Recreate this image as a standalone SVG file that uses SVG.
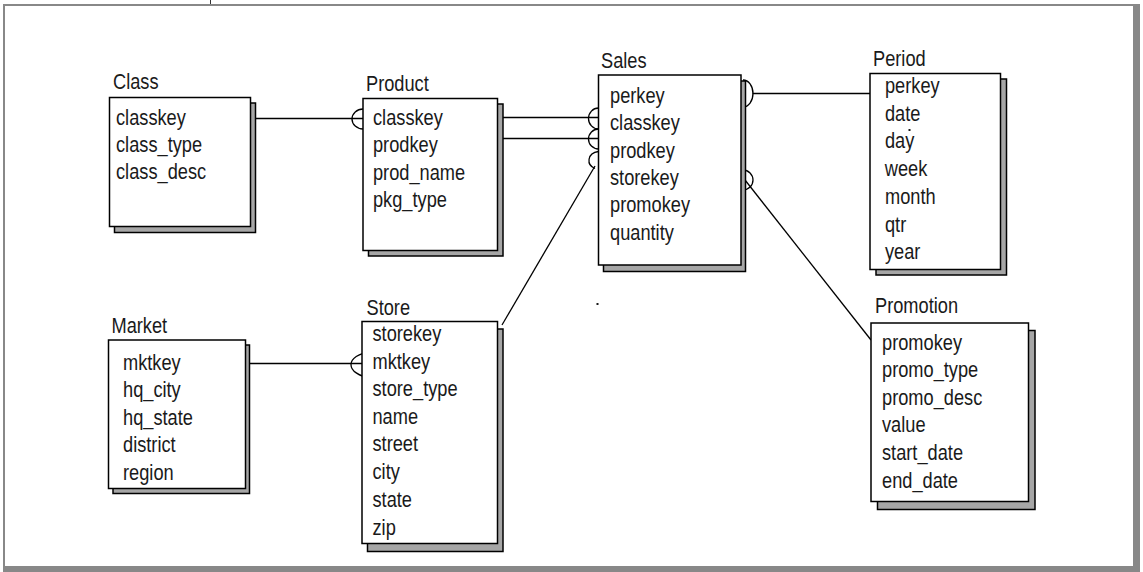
<svg xmlns="http://www.w3.org/2000/svg" width="1143" height="572" viewBox="0 0 1143 572">
  <style>
    .frame { fill: #888888; }
    .shadow { fill: #a6a6a6; stroke: #000; stroke-width: 1.5; }
    .box { fill: #ffffff; stroke: #000; stroke-width: 1.5; }
    .title, .col {
      font-family: "Liberation Sans", Arial, sans-serif; font-size: 22.5px; fill: #1a1a1a;
      /* narrow face: squeeze glyphs horizontally, anchored at the text start */
      transform-box: fill-box; transform-origin: 0 50%; transform: scaleX(0.81);
    }
    .link { fill: none; stroke: #000; stroke-width: 1.3; }
  </style>

  <!-- page frame -->
  <rect width="1143" height="572" fill="#ffffff"/>
  <line x1="210.5" y1="0" x2="210.5" y2="5" stroke="#333" stroke-width="1"/>
  <rect class="frame" x="3" y="4" width="1137" height="2"/>
  <rect class="frame" x="3" y="4" width="2" height="568"/>
  <rect class="frame" x="1133" y="4" width="7" height="568"/>
  <rect class="frame" x="3" y="566" width="1137" height="6"/>

  <!-- relationships -->
  <g id="connectors">
    <!-- Class to Product -->
    <line class="link" x1="255.5" y1="118.5" x2="363" y2="118.5"/>
    <path class="link" d="M363,109 A11,10 0 0 0 363,129"/>
    <!-- Product to Sales -->
    <line class="link" x1="503" y1="117.5" x2="598.5" y2="117.5"/>
    <line class="link" x1="503" y1="138.5" x2="598.5" y2="138.5"/>
    <path class="link" d="M598.5,108 A10,10.5 0 0 0 598.5,129"/>
    <path class="link" d="M598.5,129 A10,10 0 0 0 598.5,149"/>
    <!-- Store to Sales -->
    <path class="link" d="M598.5,151.5 C587,153 586,165 595,168.5"/>
    <line class="link" x1="502" y1="325" x2="595" y2="166"/>
    <!-- Sales to Period -->
    <path class="link" d="M743,80 A10,13.5 0 0 1 743,107"/>
    <line class="link" x1="752.5" y1="93.5" x2="870" y2="93.5"/>
    <!-- Sales to Promotion -->
    <path class="link" d="M743,170 A10,10 0 0 1 743,190"/>
    <line class="link" x1="745" y1="180" x2="871" y2="340"/>
    <!-- Market to Store -->
    <line class="link" x1="249.5" y1="363.5" x2="372.5" y2="363.5"/>
    <path class="link" d="M372,351.5 C344,355 344,374 372,378.5"/>
  </g>

  <g id="class">
    <rect class="shadow" x="114.5" y="103" width="141" height="129.5"/>
    <rect class="box" x="109.5" y="97.5" width="141" height="129"/>
    <text class="title" x="113" y="89">Class</text>
    <text class="col" x="116" y="125">classkey</text>
    <text class="col" x="116" y="152">class_type</text>
    <text class="col" x="116" y="179">class_desc</text>
  </g>

  <g id="product">
    <rect class="shadow" x="368.5" y="104" width="134.5" height="152"/>
    <rect class="box" x="363" y="98.5" width="134.5" height="152"/>
    <text class="title" x="366" y="91">Product</text>
    <text class="col" x="373" y="125">classkey</text>
    <text class="col" x="373" y="152.5">prodkey</text>
    <text class="col" x="373" y="180">prod_name</text>
    <text class="col" x="373" y="207.5">pkg_type</text>
  </g>

  <g id="sales">
    <rect class="shadow" x="603.5" y="81" width="142" height="190.5"/>
    <rect class="box" x="598.5" y="75" width="142.5" height="190"/>
    <text class="title" x="601" y="68">Sales</text>
    <text class="col" x="610" y="103">perkey</text>
    <text class="col" x="610" y="130.5">classkey</text>
    <text class="col" x="610" y="158">prodkey</text>
    <text class="col" x="610" y="185">storekey</text>
    <text class="col" x="610" y="212.5">promokey</text>
    <text class="col" x="610" y="240">quantity</text>
  </g>

  <g id="period">
    <rect class="shadow" x="876" y="79" width="130.5" height="196"/>
    <rect class="box" x="870" y="73.5" width="130.5" height="196"/>
    <text class="title" x="873" y="66">Period</text>
    <text class="col" x="885" y="93.5">perkey</text>
    <text class="col" x="885" y="121">date</text>
    <text class="col" x="885" y="148.5">day</text>
    <rect x="908.5" y="129" width="2" height="2" fill="#1a1a1a"/>
    <text class="col" x="885" y="176.5">week</text>
    <text class="col" x="885" y="204">month</text>
    <text class="col" x="885" y="232">qtr</text>
    <text class="col" x="885" y="259.5">year</text>
  </g>

  <g id="market">
    <rect class="shadow" x="113" y="345" width="136.5" height="148.5"/>
    <rect class="box" x="108.5" y="340" width="137" height="148.5"/>
    <text class="title" x="111.5" y="333">Market</text>
    <text class="col" x="123" y="370">mktkey</text>
    <text class="col" x="123" y="397.5">hq_city</text>
    <text class="col" x="123" y="425">hq_state</text>
    <text class="col" x="123" y="452.5">district</text>
    <text class="col" x="123" y="480">region</text>
  </g>

  <g id="store">
    <rect class="shadow" x="367.5" y="329" width="135.5" height="222.5"/>
    <rect class="box" x="362" y="321.5" width="135.5" height="222"/>
    <text class="title" x="366.5" y="315">Store</text>
    <text class="col" x="372.5" y="341.5">storekey</text>
    <text class="col" x="372.5" y="369">mktkey</text>
    <text class="col" x="372.5" y="396.5">store_type</text>
    <text class="col" x="372.5" y="424">name</text>
    <text class="col" x="372.5" y="451.5">street</text>
    <text class="col" x="372.5" y="479.5">city</text>
    <text class="col" x="372.5" y="507.5">state</text>
    <text class="col" x="372.5" y="535">zip</text>
  </g>

  <g id="promotion">
    <rect class="shadow" x="877.5" y="330.5" width="157.5" height="179"/>
    <rect class="box" x="871" y="323" width="157.5" height="178.5"/>
    <text class="title" x="875" y="313.5">Promotion</text>
    <text class="col" x="882" y="350">promokey</text>
    <text class="col" x="882" y="377.5">promo_type</text>
    <text class="col" x="882" y="405">promo_desc</text>
    <text class="col" x="882" y="432.5">value</text>
    <text class="col" x="882" y="460">start_date</text>
    <text class="col" x="882" y="488">end_date</text>
  </g>

  <!-- stray mark -->
  <rect x="596.5" y="303" width="2" height="2" fill="#1a1a1a"/>
</svg>
